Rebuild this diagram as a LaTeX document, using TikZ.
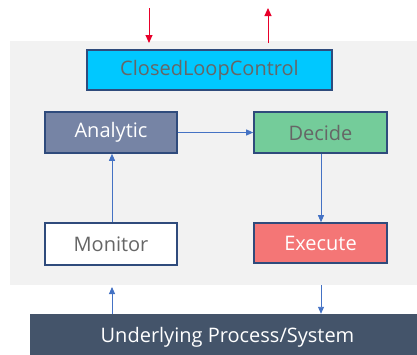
\documentclass[tikz,border=0pt]{standalone}
\usepackage{fontspec}
\setmainfont{Open Sans}
\usetikzlibrary{arrows.meta}
\definecolor{bggray}{HTML}{F2F2F2}
\definecolor{edgeblue}{HTML}{2F4B7C}
\definecolor{linkblue}{HTML}{4472C4}
\definecolor{signalred}{HTML}{E8002A}
\definecolor{txtgray}{HTML}{666666}
\definecolor{cyanfill}{HTML}{00C8FF}
\definecolor{slatefill}{HTML}{7684A5}
\definecolor{greenfill}{HTML}{74CC9A}
\definecolor{redfill}{HTML}{F47676}
\definecolor{navyfill}{HTML}{44546A}
\begin{document}
\begin{tikzpicture}[x=1pt, y=1pt, font=\fontsize{20}{24}\selectfont]
\tikzstyle{block} = [rectangle, minimum width=132pt, minimum height=41pt, inner sep=0pt, text centered, draw=edgeblue, line width=1.6pt]
\tikzstyle{link} = [-{Triangle[length=7pt, width=6pt]}, linkblue, line width=0.9pt]
\tikzstyle{signal} = [-{Triangle[length=8pt, width=7pt]}, signalred, line width=1pt]
\useasboundingbox (0,0) rectangle (417,-354);
\fill[bggray] (10,-41) rectangle (417,-285);
\node (clc)[block, fill=cyanfill, text=txtgray, minimum width=245pt, minimum height=40pt] at (209.5,-70) {ClosedLoopControl};
\node (an)[block, fill=slatefill, text=white] at (111,-132.5) {Analytic};
\node (dec)[block, fill=greenfill, text=txtgray, minimum width=133pt] at (320.5,-132.5) {Decide};
\node (mon)[block, fill=white, text=txtgray, minimum height=42pt] at (111,-244) {Monitor};
\node (ex)[block, fill=redfill, text=white, minimum width=133pt, minimum height=40pt] at (320.5,-243) {Execute};
\node (sys)[rectangle, fill=navyfill, text=white, minimum width=400pt, minimum height=46pt, inner sep=0pt] at (230,-337) {\hspace*{-5pt}Underlying Process/System};
% free ends
\coordinate (inTop) at (149,-8);
\coordinate (inBot) at (149,-43);
\coordinate (outBot) at (268,-43);
\coordinate (outTop) at (268,-8);
\coordinate (monIn) at (112,-287);
\coordinate (exOut) at (321,-285);
\draw [signal] (inTop) -- (inBot);
\draw [signal] (outBot) -- (outTop);
\draw [link] (mon.north -| monIn) -- (an.south -| monIn);
\draw [link] (an) -- (dec);
\draw [link] (dec.south -| exOut) -- (ex.north -| exOut);
\draw [link] (sys.north -| monIn) -- (monIn);
\draw [link] (exOut) -- (sys.north -| exOut);
\end{tikzpicture}
\end{document}
